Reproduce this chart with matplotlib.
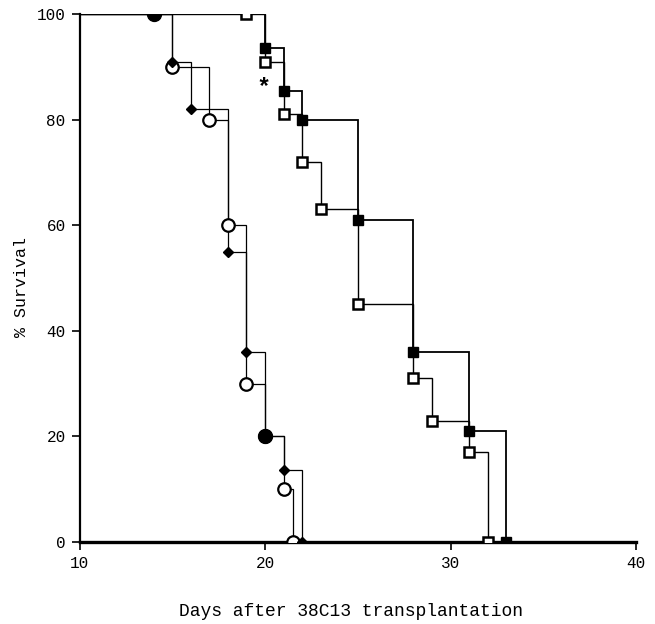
"""
Kaplan-Meier style survival curves after 38C13 transplantation.
"""
import matplotlib

matplotlib.use("Agg")
import matplotlib.pyplot as plt

# open circles
circle_days = [15, 17, 18, 19, 20, 21, 21.5]
circle_surv = [90, 80, 60, 30, 20, 10, 0]

# filled diamonds
diamond_days = [15, 16, 18, 19, 20, 21, 22]
diamond_surv = [91, 82, 55, 36, 20, 13.6, 0]

# filled squares
fsquare_days = [20, 21, 22, 25, 28, 31, 33]
fsquare_surv = [93.6, 85.4, 80, 61, 36, 21, 0]

# open squares
osquare_days = [20, 21, 22, 23, 25, 28, 29, 31, 32]
osquare_surv = [91, 81, 72, 63, 45, 31, 23, 17, 0]

# points where circle and diamond overlap (drawn as filled circles)
shared_days = [14, 20]
shared_surv = [100, 20]

# open-square marker on the 100 % line
osq_start_day = [19]
osq_start_surv = [100]

x_ticks = [10, 20, 30, 40]
y_ticks = [0, 20, 40, 60, 80, 100]

MONO = "Liberation Mono"

fig = plt.figure(figsize=(6.55, 6.24), dpi=100)
ax = fig.add_axes([0.1214, 0.1314, 0.8496, 0.8462])


def km_line(days, surv, lw):
    xs = [10] + list(days)
    ys = [100] + list(surv)
    ax.plot(xs, ys, drawstyle="steps-post", color="black", linewidth=lw,
            solid_joinstyle="miter", zorder=2)


km_line(circle_days, circle_surv, 0.9)
km_line(diamond_days, diamond_surv, 0.9)
km_line(fsquare_days, fsquare_surv, 1.3)
km_line(osquare_days, osquare_surv, 1.0)

ax.plot(circle_days, circle_surv, "o", ms=9, mfc="white", mec="black",
        mew=1.6, zorder=4)
ax.plot(diamond_days, diamond_surv, "D", ms=5, color="black", zorder=5)
ax.plot(fsquare_days, fsquare_surv, "s", ms=7.5, color="black", zorder=4)
ax.plot(osquare_days, osquare_surv, "s", ms=7, mfc="white", mec="black",
        mew=1.8, zorder=4)
ax.plot(osq_start_day, osq_start_surv, "s", ms=7, mfc="white", mec="black",
        mew=1.8, zorder=4)
ax.plot(shared_days, shared_surv, "o", ms=10, color="black", zorder=6)

ax.text(19.9, 86.0, "*", fontsize=17, ha="center", va="center",
        family=MONO, fontweight="bold")

ax.set_xlim(10, 40)
ax.set_ylim(0, 100)
ax.set_xticks(x_ticks)
ax.set_yticks(y_ticks)
ax.set_xticklabels([str(v) for v in x_ticks], family=MONO, fontsize=11.5)
ax.set_yticklabels([str(v) for v in y_ticks], family=MONO, fontsize=11.5)
ax.tick_params(direction="out", length=6, width=1.2, pad=4)

for side in ("top", "right"):
    ax.spines[side].set_visible(False)
ax.spines["left"].set_linewidth(1.6)
ax.spines["bottom"].set_linewidth(2.4)

fig.text(0.536, 1 - 611 / 624, "Days after 38C13 transplantation",
         family=MONO, fontsize=13, ha="center", va="center")
fig.text(22 / 655, 1 - 287 / 624, "% Survival", family=MONO, fontsize=12,
         rotation=90, ha="center", va="center")

fig.savefig("out.png", dpi=100)
